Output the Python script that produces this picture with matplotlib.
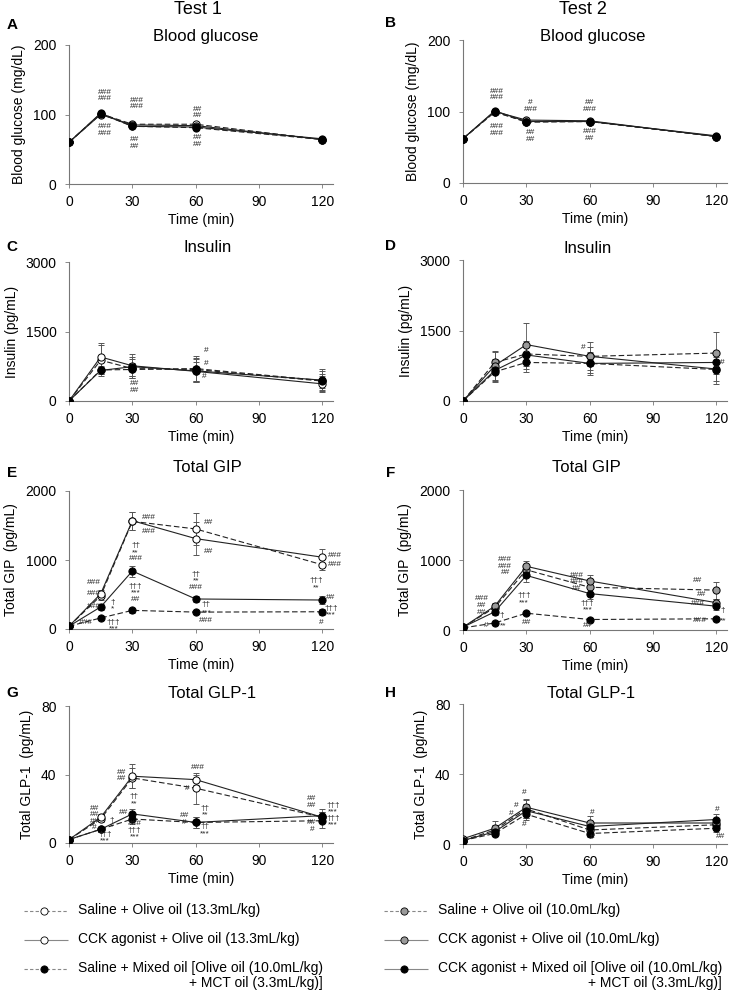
import matplotlib.pyplot as plt

plt.rcParams['font.family'] = ['Liberation Sans', 'DejaVu Sans']

W, H = 736, 994

t = [0, 15, 30, 60, 120]

# series order in every panel: saline+olive, CCK+olive, saline+mixed, CCK+mixed
glucose_t1 = [[60, 101, 86, 86, 64], [60, 100, 85, 84, 64], [60, 101, 83, 81, 64], [60, 102, 83, 82, 65]]
glucose_t1_err = [[2, 3, 3, 3, 2], [2, 3, 3, 3, 2], [2, 3, 2, 2, 2], [2, 3, 2, 2, 2]]
glucose_t2 = [[62, 100, 85, 86, 65], [62, 100, 88, 87, 65], [62, 99, 86, 86, 65], [62, 101, 86, 86, 66]]
glucose_t2_err = [[2, 3, 3, 3, 2], [2, 3, 3, 3, 2], [2, 3, 3, 3, 2], [2, 3, 3, 3, 2]]

insulin_t1 = [[0, 880, 700, 680, 430], [0, 950, 760, 640, 370], [0, 670, 680, 700, 440], [0, 660, 740, 650, 450]]
insulin_t1_err = [[0, 330, 200, 250, 150], [0, 300, 260, 200, 170], [0, 80, 150, 280, 200], [0, 80, 200, 250, 240]]
insulin_t2 = [[0, 820, 1000, 950, 1020], [0, 750, 1200, 950, 680], [0, 620, 820, 800, 670], [0, 650, 980, 800, 820]]
insulin_t2_err = [[0, 250, 200, 300, 450], [0, 300, 450, 200, 250], [0, 200, 200, 200, 300], [0, 250, 300, 250, 200]]

gip_t1 = [[40, 480, 1560, 1450, 930], [40, 510, 1570, 1310, 1040], [40, 160, 270, 245, 250], [40, 320, 840, 435, 420]]
gip_t1_err = [[10, 60, 130, 230, 80], [10, 60, 130, 240, 120], [10, 30, 40, 30, 40], [10, 40, 80, 40, 60]]
gip_t2 = [[40, 320, 860, 610, 570], [40, 340, 910, 700, 390], [30, 100, 240, 150, 160], [40, 260, 780, 520, 340]]
gip_t2_err = [[10, 40, 60, 60, 120], [10, 40, 70, 80, 60], [5, 20, 30, 20, 20], [10, 40, 100, 70, 50]]

glp1_t1 = [[2, 14, 38, 32, 15], [2, 15, 39, 37, 15], [2, 8, 14, 12, 13], [2, 8, 17, 12, 16]]
glp1_t1_err = [[0.5, 2, 6, 9, 3], [0.5, 2, 7, 3, 3], [0.5, 1.5, 3, 3, 4], [0.5, 1.5, 3, 3, 4]]
glp1_t2 = [[2, 8, 20, 8, 11], [3, 9, 21, 12, 12], [2, 6, 17, 6, 9], [2, 7, 19, 10, 14]]
glp1_t2_err = [[0.5, 3, 5, 3, 2], [0.5, 4, 5, 4, 2], [0.5, 1, 3, 2, 2], [0.5, 1.5, 4, 3, 3]]

# significance marks (x, y, text)
marks_a = [(17, 127, '###\n###'), (17, 78, '###\n###'), (32, 116, '###\n###'), (31, 59, '##\n##'),
           (61, 103, '##\n##'), (61, 62, '##\n##')]
marks_b = [(16, 124, '###\n###'), (16, 74, '###\n###'), (32, 108, '#\n###'), (32, 66, '##\n##'),
           (60, 108, '##\n###'), (60, 67, '###\n##')]
marks_c = [(65, 1100, '#'), (65, 820, '#'), (64, 520, '#'), (31, 300, '##\n##')]
marks_d = [(57, 1140, '#'), (123, 820, '#')]
marks_e = [(38, 1620, '###'), (38, 1420, '###'), (66, 1550, '##'), (66, 1130, '##'),
           (126, 1060, '###'), (126, 930, '###'), (31.5, 1110, '††\n**\n###'), (31.5, 520, '†††\n***\n##'),
           (60, 700, '††\n**\n###'), (65, 360, '††'), (65, 230, '***'), (65, 130, '###'),
           (117, 650, '†††\n**'), (124, 450, '##'), (124, 255, '†††\n***'), (119.5, 90, '#'),
           (12, 680, '###'), (12, 520, '###'), (12, 330, '###'), (20.5, 335, '†\n*'),
           (8, 100, '###'), (21, 100, '†††'), (21, -5, '***')]
marks_f = [(20, 910, '###\n###\n##'), (29, 440, '†††\n***'), (30, 110, '##'), (54, 690, '###\n###\n##'),
           (59, 330, '†††\n***'), (59, 60, '##'), (111, 700, '##'), (113, 500, '##'), (111, 385, '###'),
           (123, 280, '†'), (112, 130, '###'), (123, 130, '**'), (9, 350, '###\n##\n##'),
           (18.5, 200, '†'), (11, 60, '#'), (19, 60, '**')]
marks_g = [(12, 14.5, '##\n##\n##\n#'), (20, 11.5, '†\n*'), (17, 3, '†††\n***'),
           (25, 39.5, '##\n##'), (31, 25, '††\n**'), (26, 18, '##'),
           (31, 7.5, '###\n†††\n***'), (61, 44, '###'), (56, 32, '#'), (54.5, 14, '##\n#'),
           (64.5, 18.5, '††\n**'), (64.5, 7.5, '††\n***'), (115, 24, '##\n##'), (115, 10, '##\n#'),
           (125, 16, '†††\n***\n†††\n***')]
marks_h = [(29, 29.5, '#'), (25, 22, '#'), (23, 17.5, '#'), (29, 11, '#'), (61, 18, '#'), (61, 3.5, '#'),
           (120.5, 19.5, '#'), (122, 4, '##')]

legend_t1 = ['Saline + Olive oil (13.3mL/kg)', 'CCK agonist + Olive oil (13.3mL/kg)',
             'Saline + Mixed oil [Olive oil (10.0mL/kg)\n+ MCT oil (3.3mL/kg)]']
legend_t2 = ['Saline + Olive oil (10.0mL/kg)', 'CCK agonist + Olive oil (10.0mL/kg)',
             'CCK agonist + Mixed oil [Olive oil (10.0mL/kg)\n+ MCT oil (3.3mL/kg)]']

styles_t1 = [('white', '--'), ('white', '-'), ('black', '--'), ('black', '-')]
styles_t2 = [('#9a9a9a', '--'), ('#9a9a9a', '-'), ('black', '--'), ('black', '-')]

fig = plt.figure(figsize=(W / 100, H / 100), dpi=100)


def rect(left, top, width, bottom):
    return [left / W, 1 - bottom / H, width / W, (bottom - top) / H]


def fx(x):
    return x / W


def fy(y):
    return 1 - y / H


panels = [
    ('A', (12, 25), rect(69, 45, 264, 184), glucose_t1, glucose_t1_err, styles_t1, 200, [0, 100, 200],
     'Blood glucose', 'Blood glucose (mg/dL)', marks_a, (206, 37)),
    ('B', (391, 23), rect(463, 40, 264, 183), glucose_t2, glucose_t2_err, styles_t2, 200, [0, 100, 200],
     'Blood glucose', 'Blood glucose (mg/dL)', marks_b, (593, 37)),
    ('C', (12, 247), rect(69, 262, 264, 401), insulin_t1, insulin_t1_err, styles_t1, 3000, [0, 1500, 3000],
     'Insulin', 'Insulin (pg/mL)', marks_c, (208, 248)),
    ('D', (390, 246), rect(463, 260, 264, 401), insulin_t2, insulin_t2_err, styles_t2, 3000, [0, 1500, 3000],
     'Insulin', 'Insulin (pg/mL)', marks_d, (588, 249)),
    ('E', (12, 473), rect(69, 491, 264, 629), gip_t1, gip_t1_err, styles_t1, 2000, [0, 1000, 2000],
     'Total GIP', 'Total GIP  (pg/mL)', marks_e, (207, 468)),
    ('F', (391, 473), rect(463, 490, 264, 630), gip_t2, gip_t2_err, styles_t2, 2000, [0, 1000, 2000],
     'Total GIP', 'Total GIP  (pg/mL)', marks_f, (586, 468)),
    ('G', (12, 693), rect(69, 706, 264, 843), glp1_t1, glp1_t1_err, styles_t1, 80, [0, 40, 80],
     'Total GLP-1', 'Total GLP-1  (pg/mL)', marks_g, (212, 693)),
    ('H', (391, 693), rect(463, 704, 264, 844), glp1_t2, glp1_t2_err, styles_t2, 80, [0, 40, 80],
     'Total GLP-1', 'Total GLP-1  (pg/mL)', marks_h, (591, 693)),
]

for letter, lpos, pos, means, errs, styles, ymax, yticks, title, ylabel, marks, tpos in panels:
    ax = fig.add_axes(pos)
    for vals, err, (fc, ls) in zip(means, errs, styles):
        ax.errorbar(t, vals, yerr=err, color='#222222', ecolor='#555555', elinewidth=0.6,
                    capsize=2, capthick=0.6, linestyle=ls, linewidth=0.8,
                    dashes=(5, 2.5) if ls == '--' else (None, None),
                    marker='o', markersize=5.2, markerfacecolor=fc, markeredgecolor='black',
                    markeredgewidth=0.7, zorder=3)
    for x, y, s in marks:
        ax.text(x, y, s, fontsize=6, ha='center', va='center', linespacing=0.9,
                color='#222222', clip_on=False, zorder=4)
    ax.set_xlim(0, 125)
    ax.set_ylim(0, ymax)
    ax.set_xticks([0, 30, 60, 90, 120])
    ax.set_yticks(yticks)
    ax.tick_params(labelsize=10, length=3, width=0.6, color='#777777')
    ax.tick_params(axis='y', pad=6)
    ax.tick_params(axis='x', pad=5)
    for side in ['top', 'right']:
        ax.spines[side].set_visible(False)
    for side in ['left', 'bottom']:
        ax.spines[side].set_color('#777777')
        ax.spines[side].set_linewidth(0.8)
    ax.set_xlabel('Time (min)', fontsize=10, labelpad=3)
    ax.set_ylabel(ylabel, fontsize=10, labelpad=5)
    fig.text(fx(tpos[0]), fy(tpos[1]), title, fontsize=12, ha='center', va='center')
    fig.text(fx(lpos[0]), fy(lpos[1]), letter, fontsize=11, fontweight='bold', ha='center', va='center')

fig.text(fx(198), fy(10), 'Test 1', fontsize=13, ha='center', va='center')
fig.text(fx(583), fy(10), 'Test 2', fontsize=13, ha='center', va='center')

# legend drawn in pixel coordinates
leg = fig.add_axes([0, 0, 1, 110 / H])
leg.set_xlim(0, W)
leg.set_ylim(H, H - 110)
leg.axis('off')
rows = [911, 940, 969]
legend_cols = [(24, legend_t1, styles_t1[:3]), (384, legend_t2, [styles_t2[0], styles_t2[1], styles_t2[3]])]
for x0, labels, styles in legend_cols:
    for y, lab, (fc, ls) in zip(rows, labels, styles):
        leg.plot([x0, x0 + 44], [y, y], color='#888888', linewidth=0.8,
                 dashes=(3, 2) if ls == '--' else (None, None), solid_capstyle='butt')
        leg.plot([x0 + 20], [y], marker='o', markersize=5.2, markerfacecolor=fc,
                 markeredgecolor='black', markeredgewidth=0.6, linestyle='none')
        leg.text(x0 + 54, y - 8, lab, fontsize=10, ha='left', va='top',
                 multialignment='right', linespacing=1.05)

fig.savefig('out.png', dpi=100)
